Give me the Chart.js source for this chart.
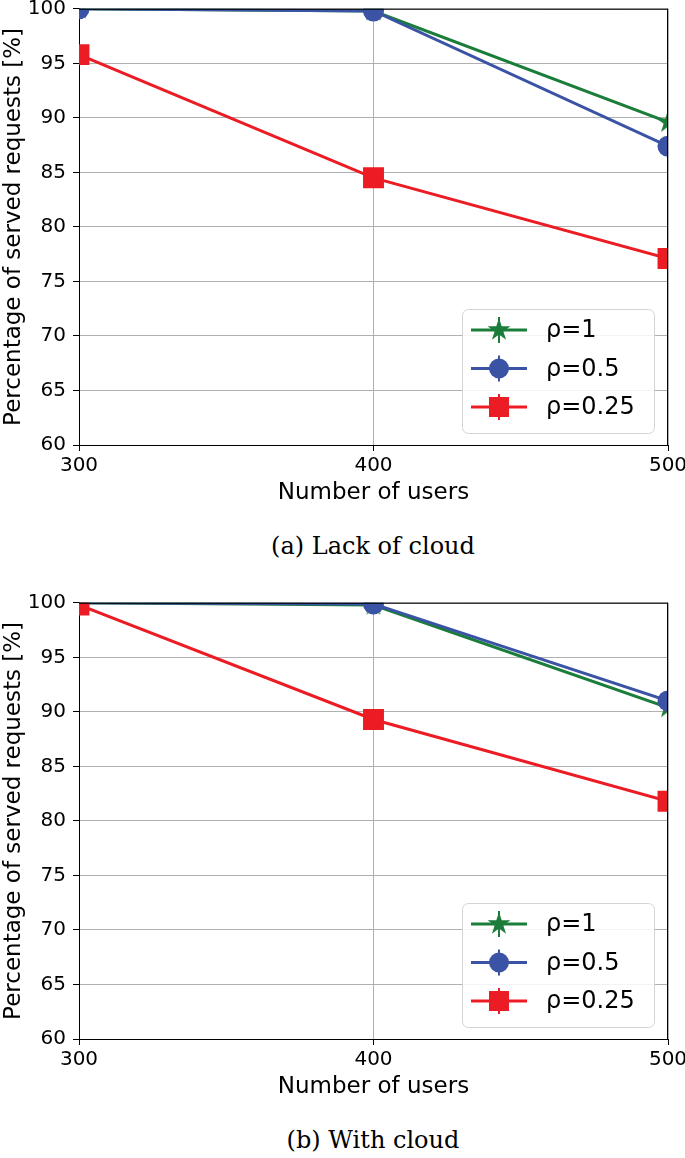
<!DOCTYPE html>
<html>
<head>
<meta charset="utf-8">
<script src="https://cdn.jsdelivr.net/npm/chart.js@4.4.1/dist/chart.umd.min.js"></script>
<style>
  body { margin: 0; background: #fff; overflow: hidden; }
  #page { position: relative; width: 685px; height: 1158px; overflow: hidden; }
  canvas { position: absolute; left: 0; }
  .caption { position: absolute; left: 0; width: 746px; text-align: center;
    font-family: "DejaVu Serif", serif; font-size: 24px; color: #000; }
</style>
</head>
<body>
<div id="page">
  <canvas id="chartA" width="685" height="521" style="top:-6px"></canvas>
  <div class="caption" style="top:532px">(a) Lack of cloud</div>
  <canvas id="chartB" width="685" height="521" style="top:588px"></canvas>
  <div class="caption" style="top:1126px">(b) With cloud</div>
</div>
<script>
// data
const users = [300, 400, 500];
const seriesLabels = ['ρ=1', 'ρ=0.5', 'ρ=0.25'];
const noCloudRho1 = [100, 99.8, 89.6];
const noCloudRho05 = [100, 99.8, 87.4];
const noCloudRho025 = [95.8, 84.5, 77.1];
const cloudRho1 = [100, 99.8, 90.4];
const cloudRho05 = [100, 99.9, 91.0];
const cloudRho025 = [99.8, 89.3, 81.8];
const yTicks = [60, 65, 70, 75, 80, 85, 90, 95, 100];

const GREEN = '#1b7d3a';
const BLUE = '#3a53a4';
const RED = '#ec1c24';

Chart.defaults.font.family = 'DejaVu Sans';
Chart.defaults.color = '#000';

// filled 5-point star like matplotlib '*'
function starImage(color, r) {
  const c = document.createElement('canvas');
  c.width = c.height = r * 2 + 2;
  const g = c.getContext('2d');
  const cx = r + 1, cy = r + 1, inner = r * 0.382;
  g.beginPath();
  for (let i = 0; i < 10; i++) {
    const rad = i % 2 === 0 ? r : inner;
    const a = -Math.PI / 2 + i * Math.PI / 5;
    g.lineTo(cx + rad * Math.cos(a), cy + rad * Math.sin(a));
  }
  g.closePath();
  g.fillStyle = color;
  g.fill();
  return c;
}
const star = starImage(GREEN, 12);

const markers = [
  { style: star, radius: 12 },
  { style: 'circle', radius: 10.5 },
  { style: 'rect', radius: 14.8 }
];
const colors = [GREEN, BLUE, RED];

const frame = {
  id: 'frame',
  afterDatasetsDraw(chart) {
    const { ctx, chartArea: a } = chart;
    ctx.save();
    ctx.strokeStyle = '#000';
    ctx.lineWidth = 1;
    ctx.beginPath();
    ctx.moveTo(a.left, a.top + 0.5);
    ctx.lineTo(a.right, a.top + 0.5);
    ctx.moveTo(a.right - 0.5, a.top);
    ctx.lineTo(a.right - 0.5, a.bottom);
    ctx.stroke();
    ctx.restore();
  }
};

const legendBox = {
  id: 'legendBox',
  afterDraw(chart) {
    const { ctx, chartArea: a } = chart;
    const x = a.right - 206, y = a.bottom - 136, w = 192, h = 124;
    ctx.save();
    ctx.beginPath();
    ctx.roundRect(x + 0.5, y + 0.5, w, h, 6);
    ctx.fillStyle = 'rgba(255,255,255,0.85)';
    ctx.fill();
    ctx.strokeStyle = '#d4d4d4';
    ctx.lineWidth = 1;
    ctx.stroke();
    chart.data.datasets.forEach((ds, i) => {
      const cy = y + 21 + i * 38.5;
      const mx = x + 37;
      ctx.strokeStyle = ds.borderColor;
      ctx.lineWidth = 3;
      ctx.beginPath();
      ctx.moveTo(x + 9, cy);
      ctx.lineTo(x + 65, cy);
      ctx.stroke();
      ctx.lineWidth = 2;
      ctx.beginPath();
      ctx.moveTo(mx, cy - 13);
      ctx.lineTo(mx, cy + 13);
      ctx.stroke();
      ctx.fillStyle = ds.borderColor;
      const m = markers[i];
      if (m.style === 'circle') {
        ctx.beginPath();
        ctx.arc(mx, cy, 10, 0, Math.PI * 2);
        ctx.fill();
      } else if (m.style === 'rect') {
        ctx.fillRect(mx - 10, cy - 10, 20, 20);
      } else {
        ctx.drawImage(m.style, mx - m.style.width / 2, cy - m.style.height / 2);
      }
      ctx.fillStyle = '#000';
      ctx.font = '24px "DejaVu Sans"';
      ctx.textBaseline = 'middle';
      ctx.fillText(ds.label, x + 84, cy + 1);
    });
    ctx.restore();
  }
};

function makeChart(id, seriesList) {
  const datasets = seriesList.map((vals, i) => ({
    label: seriesLabels[i],
    data: users.map((u, j) => ({ x: u, y: vals[j] })),
    borderColor: colors[i],
    backgroundColor: colors[i],
    borderWidth: 3,
    pointStyle: markers[i].style,
    pointRadius: markers[i].radius,
    pointHoverRadius: markers[i].radius,
    pointBorderWidth: 0,
    tension: 0,
    clip: 0,
    order: 3 - i
  }));
  return new Chart(document.getElementById(id), {
    type: 'line',
    data: { datasets },
    plugins: [frame, legendBox],
    options: {
      responsive: false,
      animation: false,
      devicePixelRatio: 1,
      layout: { padding: { top: 8, right: 17, left: 0, bottom: 0 } },
      plugins: { legend: { display: false }, tooltip: { enabled: false } },
      scales: {
        x: {
          type: 'linear',
          min: 300, max: 500,
          afterBuildTicks: s => { s.ticks = users.map(v => ({ value: v })); },
          afterFit: s => { s.height = 70; s.paddingLeft = 0; s.paddingRight = 0; },
          ticks: { font: { size: 20 }, padding: 3, maxRotation: 0 },
          grid: { color: '#b0b0b0', lineWidth: 1, tickLength: 6, tickColor: '#000' },
          border: { color: '#000', width: 1 },
          title: { display: true, text: 'Number of users', font: { size: 23 }, padding: { top: 8, bottom: 8 } }
        },
        y: {
          min: 60, max: 100,
          afterBuildTicks: s => { s.ticks = yTicks.map(v => ({ value: v })); },
          afterFit: s => { s.width = 79; s.paddingTop = 0; s.paddingBottom = 0; },
          ticks: { font: { size: 20 }, padding: 7 },
          grid: { color: '#b0b0b0', lineWidth: 1, tickLength: 6, tickColor: '#000' },
          border: { color: '#000', width: 1 },
          title: { display: true, text: 'Percentage of served requests [%]', font: { size: 23 }, padding: { top: 0, bottom: 0 } }
        }
      }
    }
  });
}

makeChart('chartA', [noCloudRho1, noCloudRho05, noCloudRho025]);
makeChart('chartB', [cloudRho1, cloudRho05, cloudRho025]);
</script>
</body>
</html>
